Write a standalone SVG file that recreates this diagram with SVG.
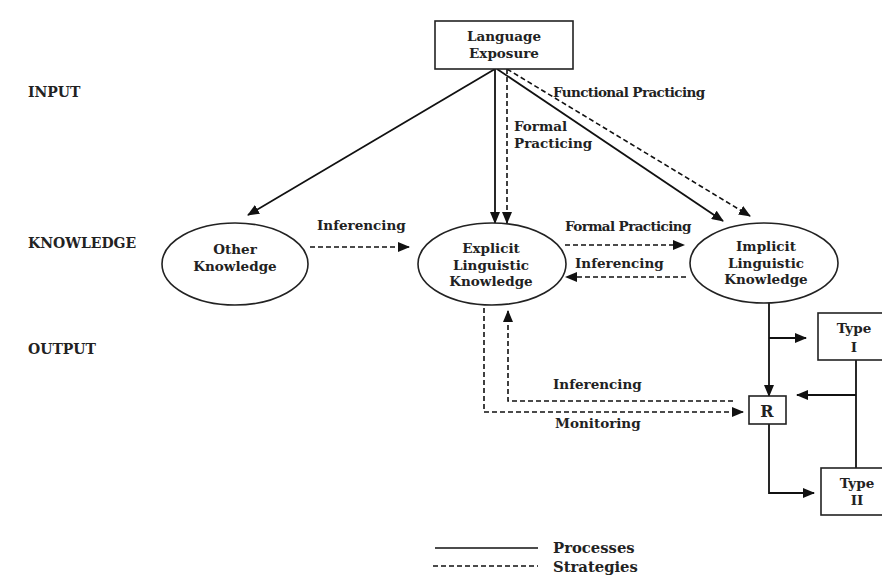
<svg xmlns="http://www.w3.org/2000/svg" width="882" height="579" viewBox="0 0 882 579">
<defs>
<marker id="ah" markerUnits="userSpaceOnUse" markerWidth="12" markerHeight="10" refX="11" refY="5" orient="auto">
<path d="M0,0 L12,5 L0,10 Z" fill="#111"/>
</marker>
<style>
text{font-family:"DejaVu Serif","Liberation Serif",serif;font-weight:bold;fill:#222;font-size:13.5px}
.c{text-anchor:middle}
.lbl{font-size:14px}
.node{fill:#fff;stroke:#222;stroke-width:1.6}
.s{stroke:#111;stroke-width:1.8;fill:none}
.d{stroke:#111;stroke-width:1.6;fill:none;stroke-dasharray:5 3}
.a{marker-end:url(#ah)}
</style>
</defs>
<rect width="882" height="579" fill="#fff"/>

<g id="levels">
<text class="lbl" x="28" y="97">INPUT</text>
<text class="lbl" x="28" y="248">KNOWLEDGE</text>
<text class="lbl" x="28" y="354">OUTPUT</text>
</g>

<g id="connectors">
<line class="s a" x1="495" y1="69" x2="248" y2="215"/>
<line class="s a" x1="495" y1="69" x2="495" y2="223"/>
<line class="d a" x1="507" y1="69" x2="507" y2="223"/>
<line class="s a" x1="497" y1="69" x2="723" y2="221"/>
<line class="d a" x1="507" y1="69" x2="750" y2="216"/>
<line class="d a" x1="310" y1="247" x2="409" y2="247"/>
<line class="d a" x1="565" y1="245" x2="684" y2="245"/>
<line class="d a" x1="686" y1="277" x2="566" y2="277"/>
<polyline class="d a" points="484,308 484,412 743,412"/>
<polyline class="d a" points="733,401 508,401 508,311"/>
<line class="s a" x1="769" y1="302" x2="769" y2="396"/>
<polyline class="s a" points="769,338 806,338"/>
<polyline class="s a" points="769,424 769,493 814,493"/>
<line class="s" x1="856" y1="360" x2="856" y2="468"/>
<line class="s a" x1="856" y1="395" x2="797" y2="395"/>
</g>

<g id="language-exposure">
<rect class="node" x="435" y="21" width="138" height="48"/>
<text class="c" x="504" y="41">Language</text>
<text class="c" x="504" y="58">Exposure</text>
</g>

<g id="other-knowledge">
<ellipse class="node" cx="235" cy="264" rx="73" ry="41"/>
<text class="c" x="235" y="254">Other</text>
<text class="c" x="235" y="271">Knowledge</text>
</g>

<g id="explicit-knowledge">
<ellipse class="node" cx="492" cy="264" rx="74" ry="41"/>
<text class="c" x="491" y="253">Explicit</text>
<text class="c" x="491" y="270">Linguistic</text>
<text class="c" x="491" y="286">Knowledge</text>
</g>

<g id="implicit-knowledge">
<ellipse class="node" cx="764" cy="263" rx="74" ry="40"/>
<text class="c" x="766" y="251">Implicit</text>
<text class="c" x="766" y="268">Linguistic</text>
<text class="c" x="766" y="284">Knowledge</text>
</g>

<g id="r">
<rect class="node" x="749" y="396" width="37" height="28"/>
<text class="c" x="767" y="417" style="font-size:16px">R</text>
</g>

<g id="type-1">
<rect class="node" x="818" y="313" width="70" height="47"/>
<text class="c" x="854" y="333">Type</text>
<text class="c" x="854" y="352">I</text>
</g>

<g id="type-2">
<rect class="node" x="821" y="468" width="70" height="47"/>
<text class="c" x="857" y="488">Type</text>
<text class="c" x="857" y="505">II</text>
</g>

<g id="edge-labels">
<text x="553" y="97" letter-spacing="-0.6">Functional Practicing</text>
<text x="514" y="131">Formal</text>
<text x="514" y="148">Practicing</text>
<text x="317" y="230">Inferencing</text>
<text x="565" y="231" letter-spacing="-0.6">Formal Practicing</text>
<text x="575" y="268">Inferencing</text>
<text x="553" y="389">Inferencing</text>
<text x="555" y="428">Monitoring</text>
</g>

<g id="legend">
<line class="s" x1="435" y1="548" x2="538" y2="548" style="stroke-width:1.5"/>
<line class="d" x1="433" y1="566" x2="538" y2="566" style="stroke-width:1.5"/>
<text x="553" y="553" style="font-size:14.8px">Processes</text>
<text x="553" y="572" style="font-size:14.8px">Strategies</text>
</g>
</svg>
